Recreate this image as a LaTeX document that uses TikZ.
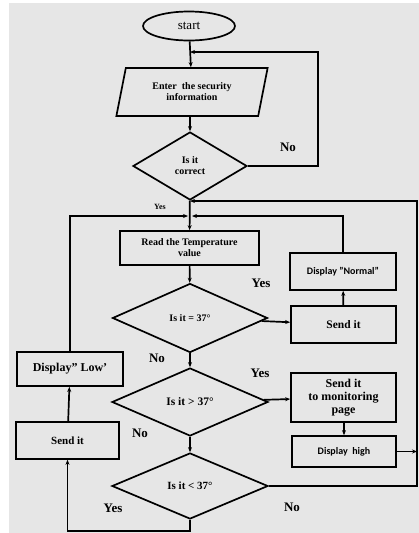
\documentclass[tikz,border=0pt]{standalone}
\usepackage{fontspec}
\setmainfont{Liberation Serif}
\setsansfont{Carlito}
\usetikzlibrary{shapes.geometric,arrows.meta}
\definecolor{bgGray}{RGB}{230,230,230}
\begin{document}
\begin{tikzpicture}[x=1pt,y=-1pt,line width=1.7pt,
    >={Stealth[length=5pt,width=4pt]},
    box/.style={draw,rectangle,inner sep=1pt,align=center,font=\fontsize{10}{11}\selectfont\bfseries},
    decision/.style={draw,diamond,inner sep=0pt,font=\fontsize{10}{11}\selectfont\bfseries,align=center},
    lbl/.style={font=\fontsize{13}{14}\selectfont\bfseries}]
    \useasboundingbox (0,0) rectangle (419,533);
    \fill[bgGray] (9,3) rectangle (419,533);
    % nodes
    \node[draw,ellipse,minimum width=92pt,minimum height=29pt,font=\fontsize{13}{14}\selectfont] (start) at (189,26) {start};
    \node[draw,trapezium,trapezium left angle=72.6,trapezium right angle=107.4,trapezium stretches=true,minimum width=152pt,minimum height=48pt,inner sep=0pt,align=center,font=\fontsize{10}{11}\selectfont\bfseries] (enter) at (192,92) {Enter\ \ the security\\information};
    \node[decision,minimum width=114pt,minimum height=68pt] (correct) at (190,166) {Is it\\correct};
    \node[box,minimum width=139pt,minimum height=34pt] (read) at (189.5,248) {Read the Temperature\\value};
    \node[decision,minimum width=155pt,minimum height=69pt] (eq) at (190,318) {Is it = 37°};
    \node[box,minimum width=105pt,minimum height=37pt,font=\fontsize{11.5}{12}\selectfont\bfseries] (sendA) at (343.5,324.5) {Send it};
    \node[box,minimum width=106pt,minimum height=37pt,font=\sffamily\fontsize{10}{11}\selectfont\bfseries] (normal) at (343,271.5) {Display "Normal"};
    \node[decision,minimum width=156pt,minimum height=68pt,font=\fontsize{11.5}{12}\selectfont\bfseries] (gt) at (190,402) {Is it > 37°};
    \node[box,minimum width=105pt,minimum height=49pt,font=\fontsize{12}{13}\selectfont\bfseries] (monitor) at (343.5,397.5) {Send it\\to monitoring\\page};
    \node[box,minimum width=104pt,minimum height=31pt,font=\sffamily\fontsize{10}{11}\selectfont\bfseries] (high) at (344,451.5) {Display\ \ high};
    \node[decision,minimum width=156pt,minimum height=66pt,font=\fontsize{11}{12}\selectfont\bfseries] (lt) at (190,486) {Is it < 37°};
    \node[box,minimum width=106pt,minimum height=34pt,font=\fontsize{12}{13}\selectfont\bfseries] (low) at (70,369) {Display” Low’};
    \node[box,minimum width=103pt,minimum height=37pt,font=\fontsize{11}{12}\selectfont\bfseries] (sendB) at (67.5,440.5) {Send it};
    \coordinate (j1) at (190,52);
    \coordinate (j2) at (190,201);
    \coordinate (j3) at (190,216);
    % connectors
    \draw[->] (start) -- (enter);
    \draw[->] (enter.south -| correct) -- (correct);
    \draw[->] (correct.east) -| (318,52) -- (j1);
    \draw[->] (correct) -- (read);
    \draw[->] (lt.east) -- (417,486) -- (417,201) -- (j2);
    \draw[->] (normal.north) |- ([xshift=2pt]j3);
    \draw[->] (low.north) |- ([xshift=-2pt]j3);
    \draw[->] (read) -- (eq);
    \draw[->] (eq) -- (sendA);
    \draw[->] (sendA) -- (normal);
    \draw[->] (eq) -- (gt);
    \draw[->] (gt) -- (monitor);
    \draw[->] (monitor.south -| high) -- (high);
    \draw[->] (high.east) -- (417,451.5);
    \draw[->] (gt) -- (lt);
    \draw[->] (lt.south) -- (190,531) -| (sendB.south);
    \draw[->] (sendB) -- (low);
    % labels
    \node[lbl] (no1) at (288,147) {No};
    \node[font=\fontsize{8}{9}\selectfont\bfseries] (yes1) at (160,207) {Yes};
    \node[lbl] (yes2) at (261,283) {Yes};
    \node[lbl] (no2) at (157,358) {No};
    \node[lbl] (yes3) at (260,373) {Yes};
    \node[lbl] (no3) at (140,433) {No};
    \node[lbl] (no4) at (292,507) {No};
    \node[lbl] (yes4) at (113,508) {Yes};
\end{tikzpicture}
\end{document}
